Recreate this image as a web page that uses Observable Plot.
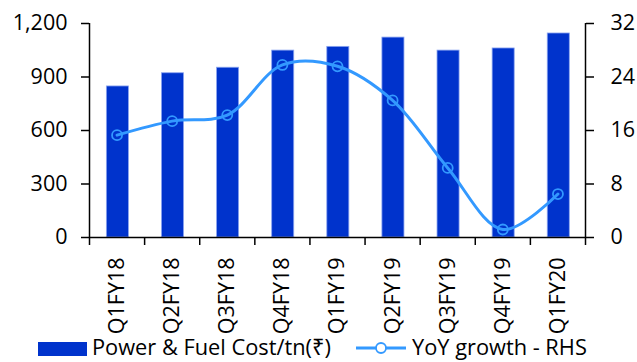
<!DOCTYPE html>
<html>
<head>
<meta charset="utf-8">
<script src="https://cdn.jsdelivr.net/npm/d3@7"></script>
<script src="https://cdn.jsdelivr.net/npm/@observablehq/plot@0.6"></script>
<style>
  body { margin: 0; background: #fff; font-family: "Open Sans", "Noto Sans", sans-serif; }
  #chart { position: relative; width: 637px; height: 362px; overflow: hidden; }
  .legend { position: absolute; left: 0; top: 336px; width: 637px; height: 24px; font-size: 21.8px; color: #000; }
  .legend .lbl { position: absolute; top: 0; display: inline-block; height: 22px; line-height: 22px; white-space: nowrap; }
  .sw-bar { position: absolute; top: 6px; left: 38px; width: 49px; height: 14px; background: #0033cc; }
  .sw-line { position: absolute; top: 5px; left: 356px; }
</style>
</head>
<body>
<div id="chart"></div>
<script>
const categories = ["Q1FY18","Q2FY18","Q3FY18","Q4FY18","Q1FY19","Q2FY19","Q3FY19","Q4FY19","Q1FY20"];
const powerFuelCost = [847, 921, 952, 1048, 1069, 1121, 1048, 1060, 1144];
const yoyGrowth = [15.3, 17.4, 18.3, 25.8, 25.6, 20.5, 10.4, 1.2, 6.5];
const leftTicks = [0, 300, 600, 900, 1200];
const rightTicks = [0, 8, 16, 24, 32];

const barColor = "#0033cc";
const lineColor = "#3399ff";
const ratio = 1200 / 32; // right axis -> left axis

const data = categories.map((c, i) => ({c, i, cost: powerFuelCost[i], g: yoyGrowth[i]}));
const boundaries = categories.map((_, i) => i).concat(categories.length);
const centers = categories.map((_, i) => i + 0.5);
const fmt = d3.format(",d");

const plot = Plot.plot({
  width: 637,
  height: 337,
  marginLeft: 89,
  marginRight: 52,
  marginTop: 23,
  marginBottom: 100,
  style: {fontFamily: "'Open Sans', 'Noto Sans', sans-serif", fontSize: "21.5px", color: "#000", background: "#fff"},
  x: {domain: [0, categories.length], axis: null},
  y: {domain: [0, 1200], axis: null},
  marks: [
    Plot.rectY(data, {x1: d => d.i + 0.315, x2: d => d.i + 0.715, y1: 0, y2: "cost", fill: barColor, stroke: "#8aa4f0", strokeWidth: 0.8}),
    Plot.line(data, {x: d => d.i + 0.5, y: d => d.g * ratio, stroke: lineColor, strokeWidth: 3, curve: "catmull-rom"}),
    Plot.dot(data, {x: d => d.i + 0.5, y: d => d.g * ratio, r: 5, stroke: lineColor, strokeWidth: 1.8, fill: "none"}),
    Plot.ruleY([0], {stroke: "#000", strokeWidth: 1.5}),
    Plot.ruleX([0], {stroke: "#000", strokeWidth: 1.5}),
    Plot.ruleX([categories.length], {stroke: "#000", strokeWidth: 1.5}),
    Plot.axisY({anchor: "left", ticks: leftTicks, tickFormat: v => fmt(v), tickSize: 8, tickPadding: 14, label: null, strokeWidth: 1.5}),
    Plot.axisY({anchor: "right", ticks: rightTicks.map(v => v * ratio), tickFormat: v => fmt(Math.round(v / ratio)), tickSize: 8, tickPadding: 17, label: null, strokeWidth: 1.5}),
    Plot.axisX({anchor: "bottom", ticks: boundaries, tickSize: 8, tickFormat: () => "", label: null, strokeWidth: 1.5}),
    Plot.axisX({anchor: "bottom", ticks: centers, tickSize: 0, tickPadding: 20, tickRotate: -90, tickFormat: v => categories[Math.floor(v)], label: null})
  ]
});
const chart = document.getElementById("chart");
chart.appendChild(plot);

const legend = document.createElement("div");
legend.className = "legend";
legend.innerHTML = `
  <div class="sw-bar"></div><span class="lbl" style="left:92px">Power &amp; Fuel Cost/tn(₹)</span>
  <svg class="sw-line" width="50" height="14"><line x1="0" y1="7" x2="50" y2="7" stroke="${lineColor}" stroke-width="3"/><circle cx="25" cy="7" r="5" fill="#fff" stroke="${lineColor}" stroke-width="1.8"/></svg><span class="lbl" style="left:412px">YoY growth - RHS</span>`;
chart.appendChild(legend);
</script>
</body>
</html>
